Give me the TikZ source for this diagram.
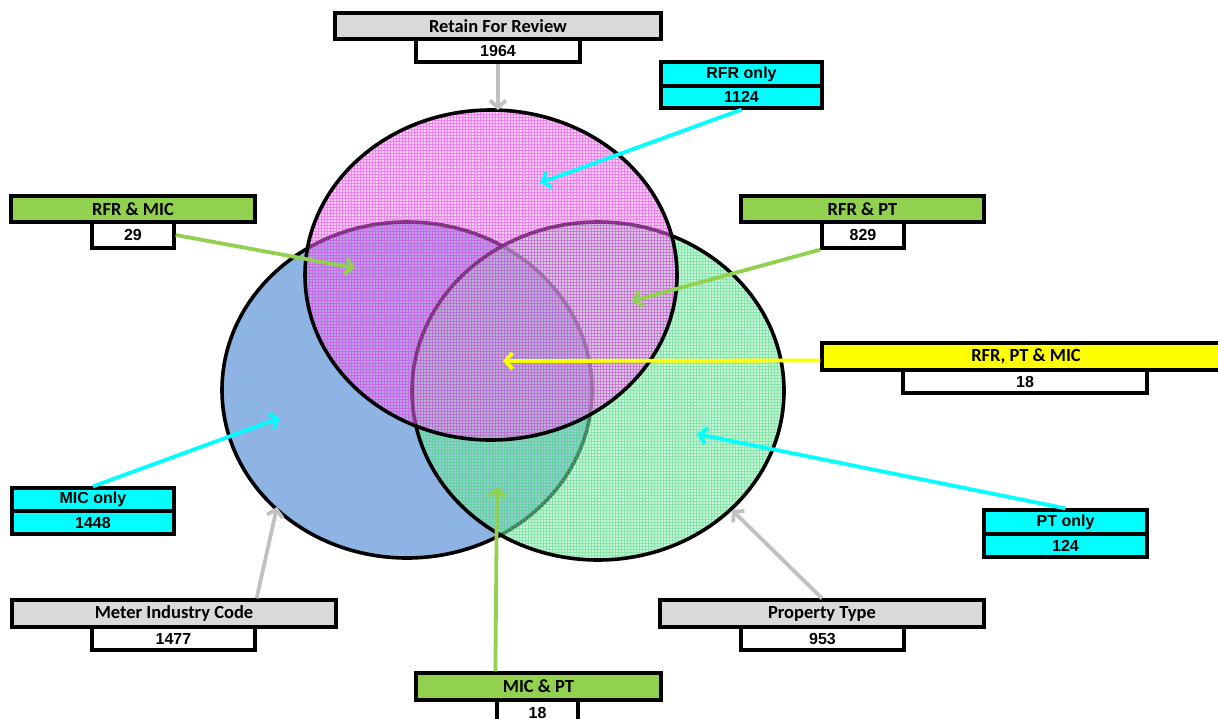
\documentclass[tikz,border=0pt]{standalone}
\usepackage{fontspec}
\setmainfont{Carlito}
\newfontfamily\arialbold{Liberation Sans}
\usetikzlibrary{arrows.meta}

\definecolor{hdrgray}{HTML}{D9D9D9}
\definecolor{hdrgreen}{HTML}{92D050}
\definecolor{hdrcyan}{HTML}{00FFFF}
\definecolor{hdryellow}{HTML}{FFFF00}
\definecolor{arrgray}{HTML}{C0C0C0}
\definecolor{micblue}{HTML}{8DB4E2}
\definecolor{ptbase}{HTML}{90EEB4}
\definecolor{ptgrid}{HTML}{30D070}
\definecolor{rfrbase}{HTML}{F288F2}
\definecolor{rfrgrid}{HTML}{E020E0}

\tikzset{
  box/.style={draw=black, line width=3.2pt, rectangle, inner sep=0pt},
  hdr/.style={box, font=\bfseries\fontsize{18.5}{20}\selectfont},
  num/.style={box, font=\arialbold\bfseries\fontsize{16}{18}\selectfont},
  pointer/.style={line width=3.8pt, -{Straight Barb[length=7pt,width=16pt]}},
  setline/.style={draw=black, line width=3.6pt},
  gridline/.style={line width=0.5pt, opacity=0.42}
}

\begin{document}
\begin{tikzpicture}[x=1pt, y=-1pt]
\clip (0,0) rectangle (1218,718);

% Meter Industry Code set
\fill[micblue] (407,390) ellipse [x radius=185, y radius=168];
\draw[setline] (407,390) ellipse [x radius=185, y radius=168];

% Property Type set: tinted fill with a fine grid
\fill[ptbase, fill opacity=0.5] (598,391) ellipse [x radius=186, y radius=169];
\begin{scope}
  \clip (598,391) ellipse [x radius=186, y radius=169];
  \draw[gridline, ptgrid, xstep=3pt, ystep=3pt] (410,220) grid (787,563);
\end{scope}
\draw[setline] (598,391) ellipse [x radius=186, y radius=169];

% Retain For Review set: tinted fill with a fine grid
\fill[rfrbase, fill opacity=0.44] (491,275) ellipse [x radius=186, y radius=165];
\begin{scope}
  \clip (491,275) ellipse [x radius=186, y radius=165];
  \draw[gridline, rfrgrid, xstep=3pt, ystep=3pt] (303,108) grid (680,443);
\end{scope}
\draw[setline] (491,275) ellipse [x radius=186, y radius=165];

% arrow targets
\coordinate (pRet) at (498,110);
\coordinate (pRFR) at (540,183);
\coordinate (pRM) at (355,268);
\coordinate (pRP) at (632,301);
\coordinate (pAll) at (503,361);
\coordinate (pMIC) at (280,418);
\coordinate (pPT) at (697,434);
\coordinate (pMICb) at (277,507);
\coordinate (pPTb) at (732,510);
\coordinate (pMP) at (497,487);

% label boxes
\node[hdr, fill=hdrgray, minimum width=326pt, minimum height=26pt] (retT) at (498,26) {Retain For Review};
\node[num, fill=white, minimum width=164pt, minimum height=23pt] (retN) at (498,50.5) {1964};

\node[num, fill=hdrcyan, minimum width=161pt, minimum height=24pt] (rfroT) at (741.5,74) {RFR only};
\node[num, fill=hdrcyan, minimum width=161pt, minimum height=22pt] (rfroN) at (741.5,97) {1124};

\node[hdr, fill=hdrgreen, minimum width=244pt, minimum height=26pt] (rmT) at (133,209) {RFR \& MIC};
\node[num, fill=white, minimum width=82pt, minimum height=26pt] (rmN) at (133,235) {29};

\node[hdr, fill=hdrgreen, minimum width=243pt, minimum height=26pt] (rpT) at (862.5,209) {RFR \& PT};
\node[num, fill=white, minimum width=82pt, minimum height=26pt] (rpN) at (863,235) {829};

\node[hdr, fill=hdryellow, minimum width=408pt, minimum height=27pt] (allT) at (1026,356.5) {RFR, PT \& MIC};
\node[num, fill=white, minimum width=244pt, minimum height=23pt] (allN) at (1025,381.5) {18};

\node[num, fill=hdrcyan, minimum width=162pt, minimum height=23pt] (micoT) at (93,499.5) {MIC only};
\node[num, fill=hdrcyan, minimum width=162pt, minimum height=23pt] (micoN) at (93,522.5) {1448};

\node[num, fill=hdrcyan, minimum width=163pt, minimum height=24pt] (ptoT) at (1065.5,522) {PT only};
\node[num, fill=hdrcyan, minimum width=163pt, minimum height=23pt] (ptoN) at (1065.5,545.5) {124};

\node[hdr, fill=hdrgray, minimum width=324pt, minimum height=27pt] (micT) at (174,613.5) {Meter Industry Code};
\node[num, fill=white, minimum width=163pt, minimum height=23pt] (micN) at (173.5,638.5) {1477};

\node[hdr, fill=hdrgray, minimum width=324pt, minimum height=27pt] (ptT) at (822,613.5) {Property Type};
\node[num, fill=white, minimum width=163pt, minimum height=23pt] (ptN) at (822.5,638.5) {953};

\node[hdr, fill=hdrgreen, minimum width=245pt, minimum height=27pt] (mpT) at (538.5,686.5) {MIC \& PT};
\node[num, fill=white, minimum width=81pt, minimum height=26pt] (mpN) at (537.5,713) {18};

% connectors
\draw[pointer, arrgray] (retN.south) -- (pRet);
\draw[pointer, hdrcyan] (rfroN.south) -- (pRFR);
\draw[pointer, hdrgreen] (rmN.east) -- (pRM);
\draw[pointer, hdrgreen] (rpN.south west) -- (pRP);
\draw[pointer, hdryellow] ([yshift=-4pt]allT.west) -- (pAll);
\draw[pointer, hdrcyan] (micoT.north) -- (pMIC);
\draw[pointer, hdrcyan] (ptoT.north) -- (pPT);
\draw[pointer, arrgray] (micN.east |- micT.north) -- (pMICb);
\draw[pointer, arrgray] (ptT.north) -- (pPTb);
\draw[pointer, hdrgreen] (mpN.west |- mpT.north) -- (pMP);
\end{tikzpicture}
\end{document}
